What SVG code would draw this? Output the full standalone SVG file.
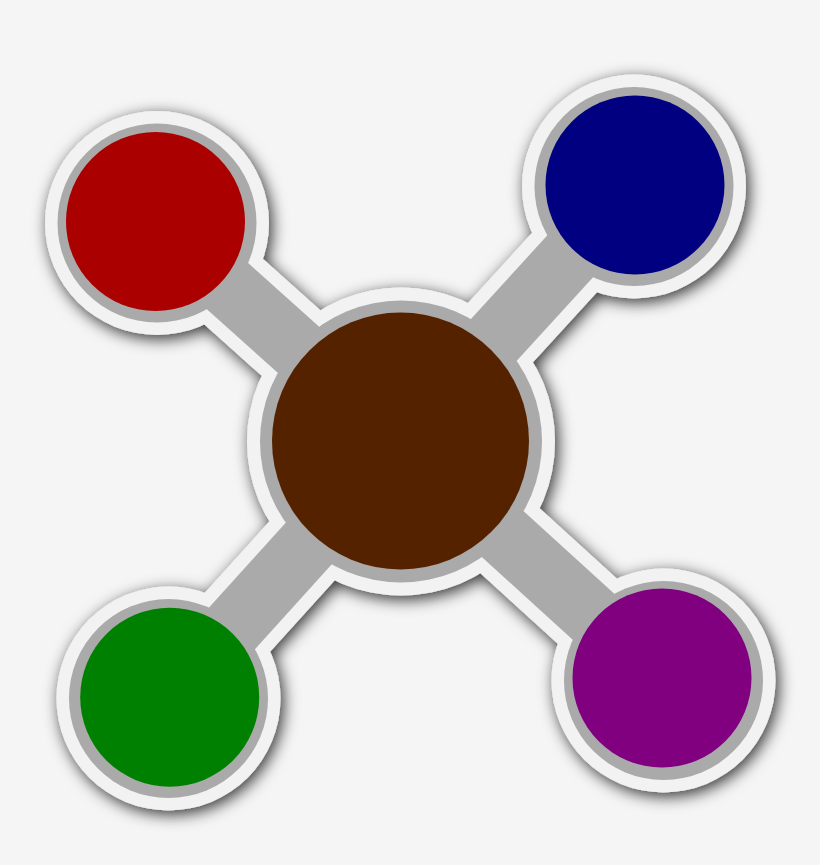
<svg xmlns="http://www.w3.org/2000/svg" width="820" height="865" viewBox="0 0 820 865">
  <defs>
    <filter id="shadow" x="-20%" y="-20%" width="140%" height="140%">
      <feDropShadow dx="3" dy="4" stdDeviation="8" flood-color="#000000" flood-opacity="0.8"/>
    </filter>
    <style>
      .wring { fill: #f2f2f2; }
      .gring { fill: #aaaaaa; }
      .wbar { stroke: #f2f2f2; stroke-width: 88; fill: none; }
      .gbar { stroke: #aaaaaa; stroke-width: 62; fill: none; }
    </style>
  </defs>
  <rect width="820" height="865" fill="#f5f5f5"/>
  <g id="connectors" filter="url(#shadow)">
    <g id="outline">
      <line class="wbar" x1="157" y1="223" x2="401" y2="441.5"/>
      <line class="wbar" x1="634" y1="186.5" x2="401" y2="441.5"/>
      <line class="wbar" x1="168.5" y1="698.5" x2="401" y2="441.5"/>
      <line class="wbar" x1="663.5" y1="680.5" x2="401" y2="441.5"/>
      <circle class="wring" cx="157" cy="223" r="112"/>
      <circle class="wring" cx="634" cy="186.5" r="112"/>
      <circle class="wring" cx="168.5" cy="698.5" r="112"/>
      <circle class="wring" cx="663.5" cy="680.5" r="112"/>
      <circle class="wring" cx="401" cy="441.5" r="154"/>
    </g>
    <g id="bars">
      <line class="gbar" x1="157" y1="223" x2="401" y2="441.5"/>
      <line class="gbar" x1="634" y1="186.5" x2="401" y2="441.5"/>
      <line class="gbar" x1="168.5" y1="698.5" x2="401" y2="441.5"/>
      <line class="gbar" x1="663.5" y1="680.5" x2="401" y2="441.5"/>
      <circle class="gring" cx="157" cy="223" r="99.5"/>
      <circle class="gring" cx="634" cy="186.5" r="99.5"/>
      <circle class="gring" cx="168.5" cy="698.5" r="99.5"/>
      <circle class="gring" cx="663.5" cy="680.5" r="99.5"/>
      <circle class="gring" cx="401" cy="441.5" r="141"/>
    </g>
  </g>
  <g id="node-red"><circle cx="155.5" cy="221.5" r="89.5" fill="#aa0000"/></g>
  <g id="node-blue"><circle cx="635" cy="185" r="89.5" fill="#000080"/></g>
  <g id="node-green"><circle cx="169.7" cy="697.2" r="89.5" fill="#008000"/></g>
  <g id="node-purple"><circle cx="662" cy="678" r="89.5" fill="#800080"/></g>
  <g id="node-center"><circle cx="400.5" cy="441" r="128.5" fill="#552200"/></g>
</svg>
